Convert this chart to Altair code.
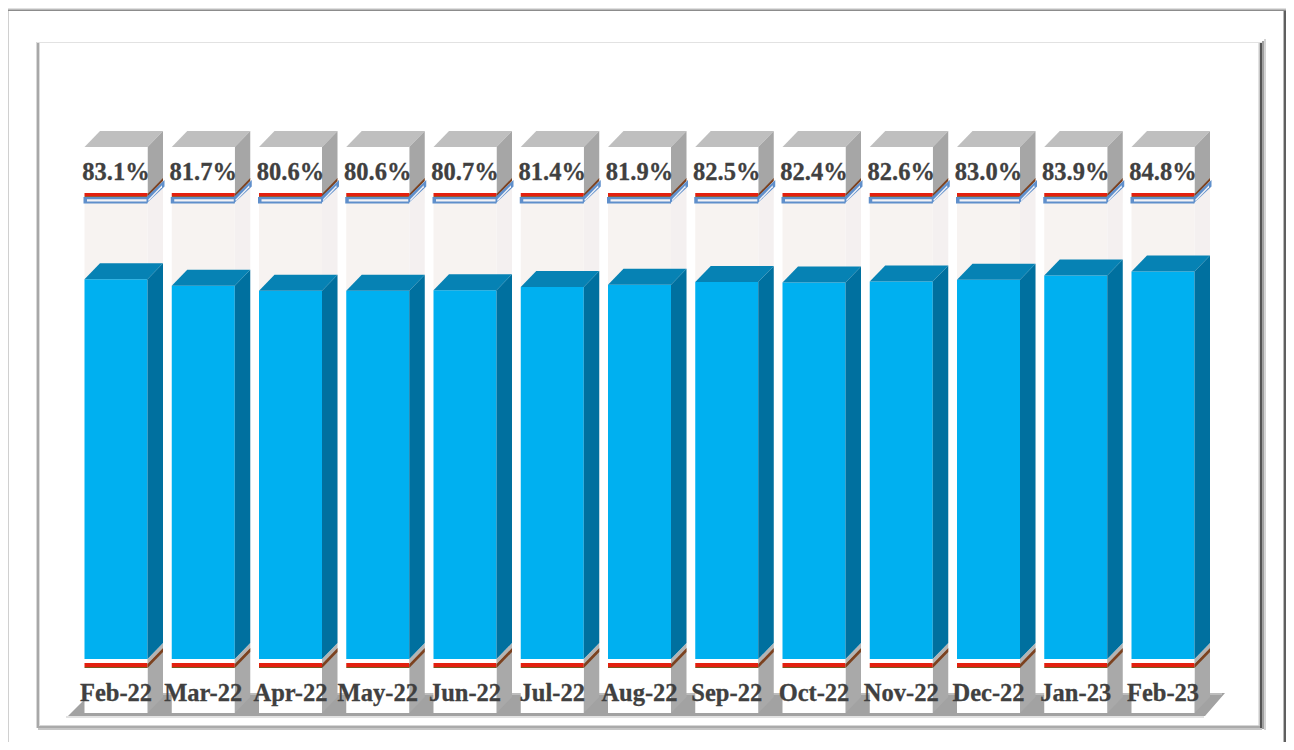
import altair as alt
import pandas as pd

categories = ["Feb-22","Mar-22","Apr-22","May-22","Jun-22","Jul-22","Aug-22","Sep-22","Oct-22","Nov-22","Dec-22","Jan-23","Feb-23"]
values = [83.1,81.7,80.6,80.6,80.7,81.4,81.9,82.5,82.4,82.6,83.0,83.9,84.8]

W, H = 1278, 734
PITCH, CX0 = 87.25, 116.0
BASE, K = 659.0, 4.57   # page-pixel position of 0% and pixels per %

def ix(px):  # page px -> x domain units
    return (px - CX0) / PITCH
def vy(py):  # page px -> value units
    return (BASE - py) / K

pid_counter = [0]
rows = []
def add(color, pts):
    pid_counter[0] += 1
    for x, y, y2 in pts:
        rows.append(dict(poly=pid_counter[0], x=ix(x), y=vy(y), y2=vy(y2), color=color))
def rect(color, x0, x1, t, b):
    add(color, [(x0, t, b), (x1, t, b)])
def side(color, x0, x1, t, b, dy):
    add(color, [(x0, t, b), (x1, t - dy, b - dy)])
def top(color, l, r, d, t, dy):
    add(color, [(l, t, t), (l + d, t - dy, t), (r, t - dy, t), (r + d, t - dy, t - dy)])

HW, DX, DY = 31.5, 15.5, 16.0

# frames
for c, (a, b) in zip(["#e4e4e4","#cfcfcf","#b4b4b4","#9c9c9c","#8c8c8c"], [(5,8.5),(8.5,9),(9,9.5),(9.5,10),(10,11)]):
    rect(c, 8, 1286, a, b)
rect("#d0d0d0", 8, 9, 11, 742)
rect("#b8b8b8", 1283, 1284, 11, 742)
rect("#5f5f5f", 1284, 1286, 11, 742)
rect("#e2e2e2", 36, 1262, 42, 43)
rect("#d8d8d8", 36, 37, 42, 728)
rect("#a8a8a8", 37, 39, 43, 728)
rect("#dcdcdc", 39, 40, 43, 726)
rect("#d6d6d6", 40, 1260, 725, 726)
rect("#aaaaaa", 38, 1262, 726, 728)
rect("#c6c6c6", 38, 1262, 728, 730)
rect("#c8c8c8", 1258.5, 1260, 43, 726)
rect("#555555", 1260, 1262, 43, 728)
rect("#a0a0a0", 1262, 1264, 41, 729)
rect("#d4d4d4", 1264, 1266, 39, 730)

# floor
rect("#e2e2e2", 66, 1204, 716, 718)
add("#a2a2a2", [(68, 716, 716), (84, 700, 716), (84.1, 693, 716), (1205, 693, 716), (1225, 693, 693)])
rect("#bdbdbd", 84.1, 1222, 693, 695)

for i, v in enumerate(values):
    cx = CX0 + PITCH * i
    l, r = cx - HW, cx + HW
    tp = BASE - K * v
    # lower plinth
    side("#a9a9a9", r, r + DX, 664, 713, DY)
    rect("#ffffff", l, r, 659, 713)
    rect("#e3200f", l, r, 663, 667)
    rect("#7a5a1e", l, r, 667, 668)
    side("#b4b4b4", r, r + DX, 659, 664, DY)
    side("#7c4220", r, r + DX, 664, 668, DY)
    # upper cap
    top("#bfbfbf", l, r, DX, 147, DY)
    side("#a6a6a6", r, r + DX, 147, 195, DY)
    rect("#ffffff", l, r, 147, 193)
    rect("#e3200f", l, r, 193, 196)
    rect("#a0522d", l, r, 196, 197)
    side("#7c4220", r, r + DX, 194, 197, DY)
    # empty part of the column
    side("#f4f0f0", r, r + DX, 203, BASE, DY)
    rect("#f7f3f1", l, r, 203, tp)
    # value part
    rect("#00b0f0", l, r, tp, BASE)
    side("#00709f", r, r + DX, tp, BASE, DY)
    top("#0682b4", l, r, DX, tp, DY)
    # hollow 100% outline
    side("#5f8fcb", r - 1, r + DX + 1.5, 197, 203.5, DY + 1)
    side("#f2f2f6", r + 1, r + DX - 1, 199.3, 201.3, DY - 2)
    rect("#5f8fcb", l - 1, r, 197, 203.5)
    rect("#f2f2f6", l + 2.5, r - 1, 199.3, 201.5)

x_scale = alt.Scale(domain=[ix(8), ix(8 + W)], nice=False, zero=False)
y_scale = alt.Scale(domain=[vy(8 + H), vy(8)], nice=False, zero=False)

shapes = alt.Chart(pd.DataFrame(rows)).mark_area(interpolate="linear", strokeWidth=0).encode(
    x=alt.X("x:Q", scale=x_scale, axis=None),
    y=alt.Y("y:Q", scale=y_scale, axis=None),
    y2="y2:Q",
    color=alt.Color("color:N", scale=None),
    detail="poly:N",
)

text_df = pd.DataFrame({
    "i": list(range(len(values))),
    "cat": categories,
    "lab": [f"{v:.1f}%" for v in values],
    "py": [vy(172.5)] * len(values),
    "pc": [vy(693.5)] * len(values),
})
style = dict(font="Liberation Serif", fontSize=24.5, fontWeight="bold", color="#404040",
             stroke="#404040", strokeWidth=0.3, align="center", baseline="middle")
value_labels = alt.Chart(text_df).mark_text(**style).encode(
    x=alt.X("i:Q", scale=x_scale, axis=None), y=alt.Y("py:Q", scale=y_scale, axis=None), text="lab:N")
cat_labels = alt.Chart(text_df).mark_text(**style).encode(
    x=alt.X("i:Q", scale=x_scale, axis=None), y=alt.Y("pc:Q", scale=y_scale, axis=None), text="cat:N")

chart = (shapes + value_labels + cat_labels).properties(
    width=W, height=H, padding=0, autosize=alt.AutoSizeParams(type="none"), background="#ffffff"
).configure_view(stroke=None)

chart.save("out.html", embed_options={"renderer": "svg", "actions": False})
